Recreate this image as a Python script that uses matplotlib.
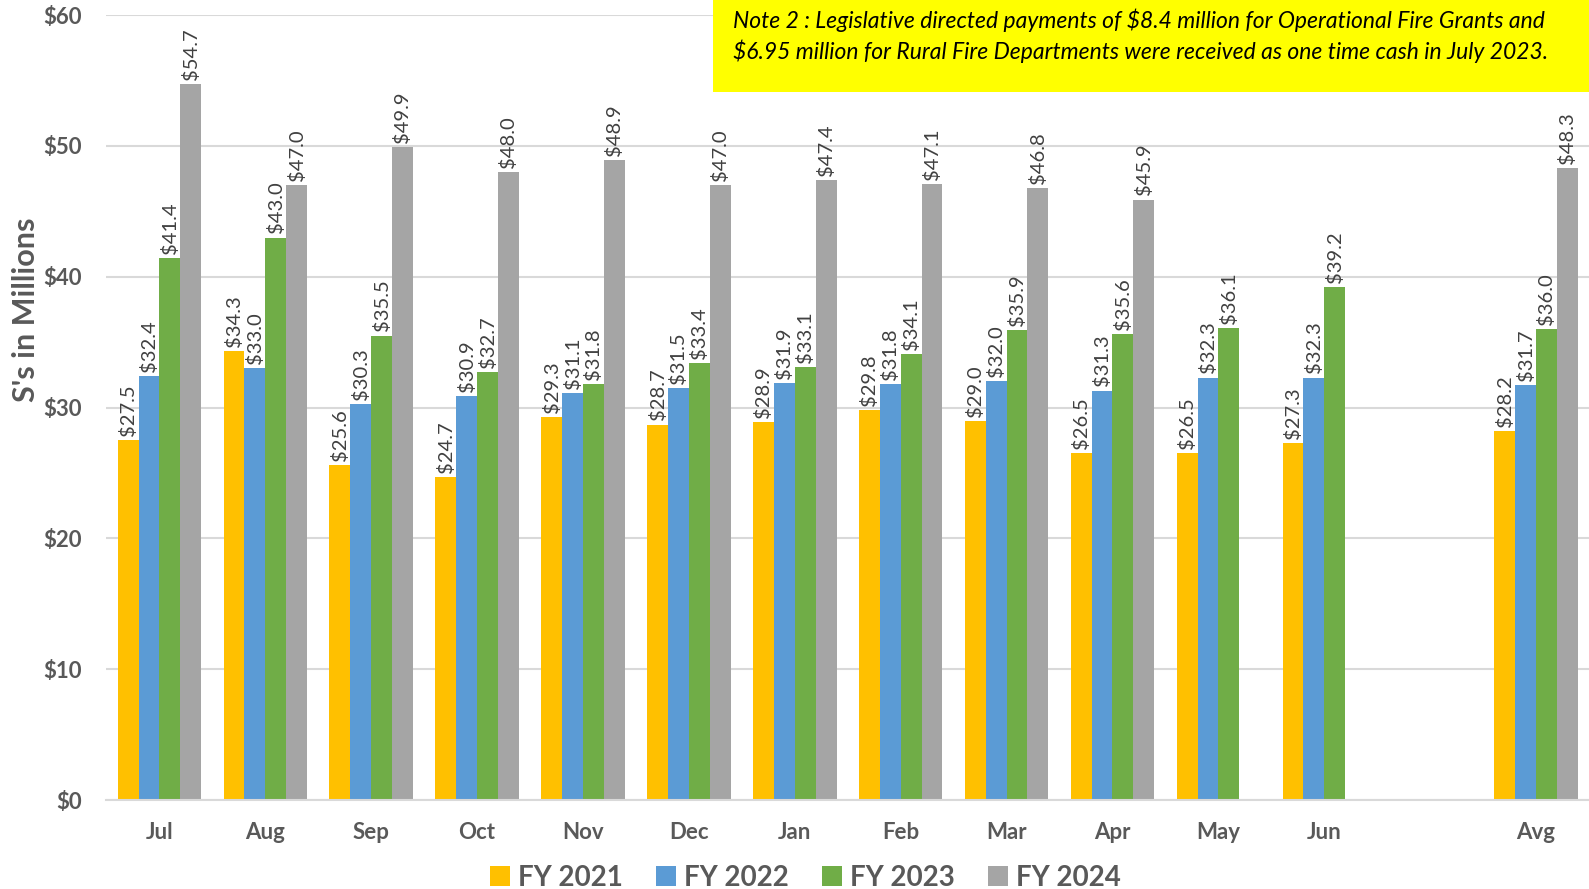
import numpy as np
import matplotlib
matplotlib.use("Agg")
import matplotlib.pyplot as plt
from matplotlib.patches import Rectangle

plt.rcParams['font.family'] = ['Lato', 'DejaVu Sans']

# --- data ---
categories = ["Jul", "Aug", "Sep", "Oct", "Nov", "Dec", "Jan", "Feb", "Mar", "Apr", "May", "Jun", "", "Avg"]
fy2021 = [27.5, 34.3, 25.6, 24.7, 29.3, 28.7, 28.9, 29.8, 29.0, 26.5, 26.5, 27.3, None, 28.2]
fy2022 = [32.4, 33.0, 30.3, 30.9, 31.1, 31.5, 31.9, 31.8, 32.0, 31.3, 32.3, 32.3, None, 31.7]
fy2023 = [41.4, 43.0, 35.5, 32.7, 31.8, 33.4, 33.1, 34.1, 35.9, 35.6, 36.1, 39.2, None, 36.0]
fy2024 = [54.7, 47.0, 49.9, 48.0, 48.9, 47.0, 47.4, 47.1, 46.8, 45.9, None, None, None, 48.3]
series_names = ["FY 2021", "FY 2022", "FY 2023", "FY 2024"]
colors = ["#FFC000", "#5B9BD5", "#70AD47", "#A5A5A5"]

note = ("Note 2 : Legislative directed payments of $8.4 million for Operational Fire Grants and\n"
        "$6.95 million for Rural Fire Departments were received as one time cash in July 2023.")

# --- plot ---
fig = plt.figure(figsize=(15.89, 8.89), dpi=100)
ax = fig.add_axes([0.067, 0.100, 0.933, 0.883])

x = np.arange(len(categories))
w = 0.197
for i, (name, vals, col) in enumerate(zip(series_names, [fy2021, fy2022, fy2023, fy2024], colors)):
    xs = [xi + (i - 1.5) * w for xi, v in zip(x, vals) if v is not None]
    vs = [v for v in vals if v is not None]
    bars = ax.bar(xs, vs, width=w, color=col, label=name, zorder=2)
    for b, v in zip(bars, vs):
        ax.annotate(f"${v:.1f}", (b.get_x() + b.get_width() / 2, v), xytext=(0, 3),
                    textcoords="offset points", rotation=90, ha="center", va="bottom",
                    fontsize=14.5, color="#404040")

ax.set_xlim(-0.5, 13.5)
ax.set_ylim(0, 60)
ax.set_yticks(range(0, 61, 10))
ax.set_yticklabels([f"${t}" for t in range(0, 61, 10)])
ax.set_xticks(x)
ax.set_xticklabels(categories)
ax.tick_params(axis="both", length=0, labelsize=16, labelcolor="#595959")
for lbl in ax.get_xticklabels() + ax.get_yticklabels():
    lbl.set_fontweight("bold")
ax.tick_params(axis="x", pad=16)
ax.tick_params(axis="y", pad=18)
ax.grid(axis="y", color="#D9D9D9", linewidth=1.5, zorder=0)
for s in ["top", "right", "left"]:
    ax.spines[s].set_visible(False)
ax.spines["bottom"].set_color("#D9D9D9")
ax.spines["bottom"].set_linewidth(1.5)
ax.set_ylabel("S's in Millions", fontsize=22, fontweight="bold", color="#595959")
ax.yaxis.set_label_coords(-0.045, 0.625)

fig.legend(loc="lower center", bbox_to_anchor=(0.507, -0.03), ncol=4, frameon=False,
           prop={"size": 20, "weight": "bold"}, labelcolor="#595959",
           handlelength=0.7, handleheight=0.7, handletextpad=0.3, columnspacing=1.2)

# note box
fig.patches.append(Rectangle((0.4485, 0.897), 0.56, 0.11, transform=fig.transFigure,
                             facecolor="#FFFF00", edgecolor="none", zorder=5))
fig.text(0.461, 0.96, note, fontsize=16.5, style="italic", color="black",
         ha="left", va="center", linespacing=1.4, zorder=6)

fig.savefig("out.png", dpi=100)
